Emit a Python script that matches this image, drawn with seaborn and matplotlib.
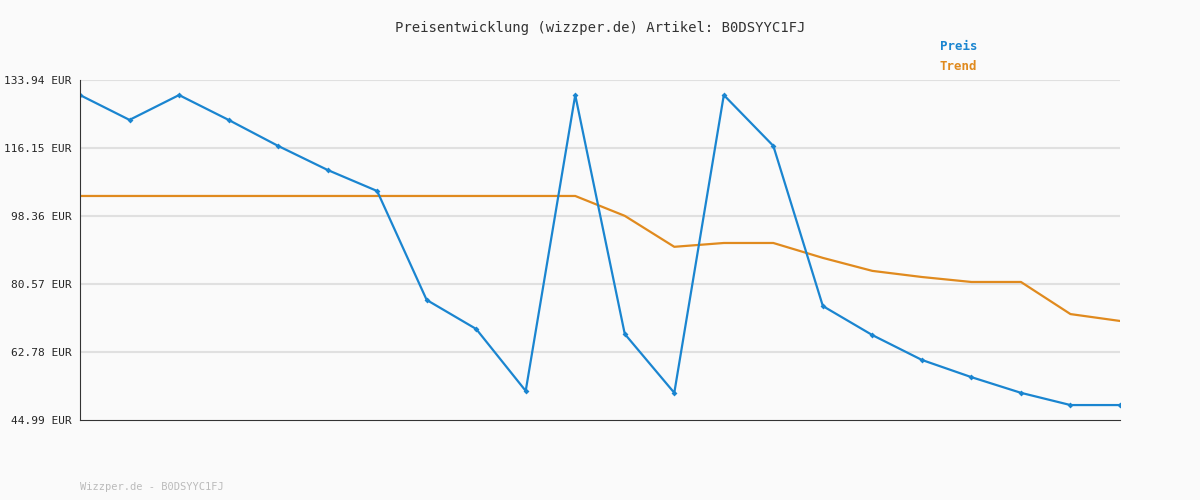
import matplotlib
matplotlib.use("Agg")
import matplotlib.pyplot as plt
import seaborn as sns
import pandas as pd

preis = [130.0,123.5,130.0,123.5,116.7,110.4,104.9,76.4,68.8,52.6,130.0,67.5,52.1,130.0,116.7,74.8,67.2,60.7,56.2,52.1,48.9,48.9]
trend = [103.6]*11 + [98.4,90.3,91.3,91.3,87.4,84.0,82.4,81.1,81.1,72.7,70.9]
yticks = [44.99,62.78,80.57,98.36,116.15,133.94]
x = list(range(len(preis)))

sns.set_style("white")
plt.rcParams['font.family'] = ['DejaVu Sans Mono']
fig = plt.figure(figsize=(12,5), dpi=100, facecolor='#fafafa')
ax = fig.add_axes([80/1200, 80/500, 1040/1200, 340/500], facecolor='#fafafa')
df = pd.DataFrame({'x': x, 'Preis': preis, 'Trend': trend})
sns.lineplot(data=df, x='x', y='Trend', ax=ax, color='#e08a1e', lw=1.6)
sns.lineplot(data=df, x='x', y='Preis', ax=ax, color='#1a85d0', lw=1.6, marker='D', markersize=3, markeredgewidth=0)
ax.set_xlim(0, len(x)-1)
ax.set_ylim(44.99, 133.94)
ax.set_yticks(yticks)
ax.set_yticklabels([f"{v:.2f} EUR" for v in yticks], fontsize=8)
ax.set_xticks([])
ax.set_xlabel(''); ax.set_ylabel('')
for v in yticks[1:]:
    ax.axhline(v, color='#e0e0e0', lw=1.5, zorder=0)
for s in ['top','right']:
    ax.spines[s].set_visible(False)
ax.spines['left'].set_color('#333'); ax.spines['bottom'].set_color('#333')
ax.tick_params(axis='y', length=4, color='#333', pad=2)
fig.text(0.5, 1-28/500, "Preisentwicklung (wizzper.de) Artikel: B0DSYYC1FJ", ha='center', va='center', fontsize=10, color='#333')
fig.text(940/1200, 1-47/500, "Preis", color='#1a85d0', fontsize=9, fontweight='bold', va='center')
fig.text(940/1200, 1-67/500, "Trend", color='#e08a1e', fontsize=9, fontweight='bold', va='center')
fig.text(80/1200, 1-487/500, "Wizzper.de - B0DSYYC1FJ", color='#bbbbbb', fontsize=7.5, va='center')
fig.savefig('out.png', facecolor='#fafafa')
